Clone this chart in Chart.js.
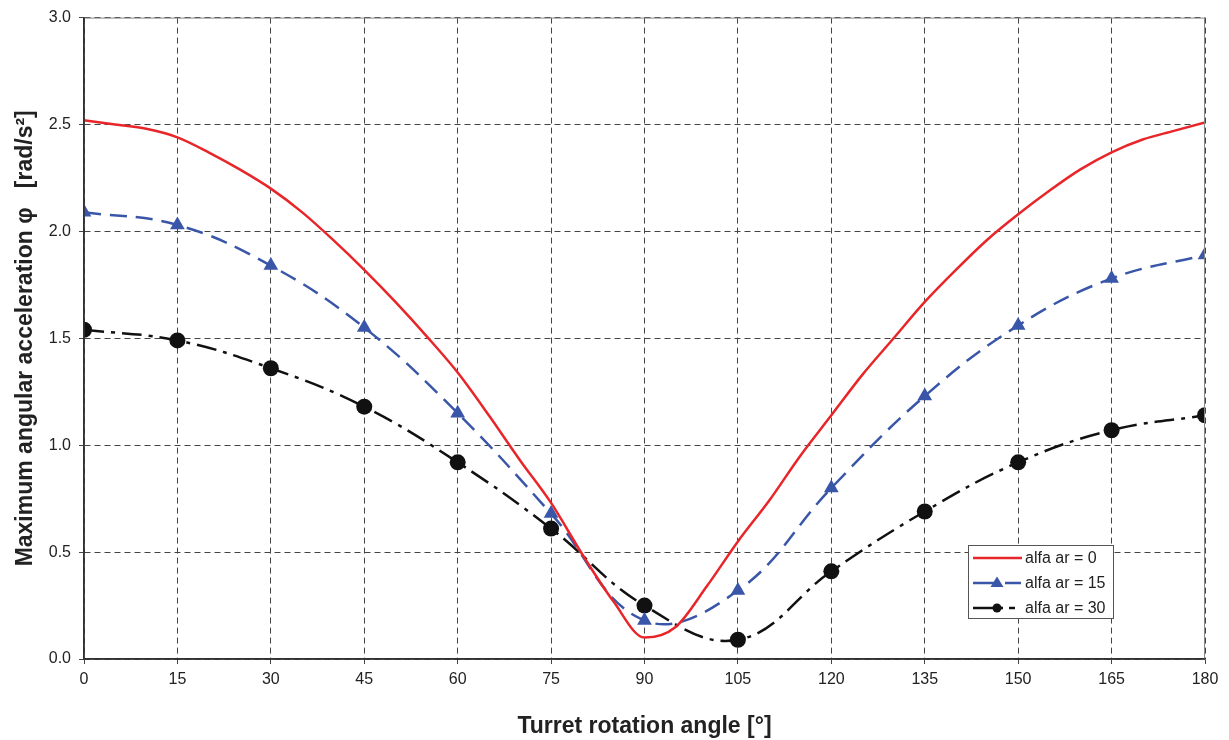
<!DOCTYPE html>
<html>
<head>
<meta charset="utf-8">
<script src="https://cdn.jsdelivr.net/npm/chart.js@4.4.0/dist/chart.umd.min.js"></script>
<style>
html,body{margin:0;padding:0;background:#fff;}
canvas{display:block;}
</style>
</head>
<body>
<canvas id="c" width="1229" height="740"></canvas>
<script>
// ---- data ----
const angles = [0, 15, 30, 45, 60, 75, 90, 105, 120, 135, 150, 165, 180];
const alfa15 = [2.09, 2.03, 1.84, 1.55, 1.15, 0.68, 0.18, 0.32, 0.80, 1.23, 1.56, 1.78, 1.89];
const alfa30 = [1.54, 1.49, 1.36, 1.18, 0.92, 0.61, 0.25, 0.09, 0.41, 0.69, 0.92, 1.07, 1.14];
const anglesFine = [0, 5, 10, 15, 20, 25, 30, 35, 40, 45, 50, 55, 60, 65, 70, 75, 80, 85, 90,
                    95, 100, 105, 110, 115, 120, 125, 130, 135, 140, 145, 150, 155, 160, 165, 170, 175, 180];
const alfa0 = [2.52, 2.50, 2.48, 2.44, 2.37, 2.29, 2.20, 2.09, 1.96, 1.82, 1.67, 1.51, 1.34, 1.14, 0.93, 0.73, 0.49, 0.27, 0.10,
               0.15, 0.34, 0.55, 0.74, 0.95, 1.14, 1.33, 1.50, 1.67, 1.82, 1.96, 2.08, 2.19, 2.29, 2.37, 2.43, 2.47, 2.51];
const seriesLabels = ['alfa ar = 0', 'alfa ar = 15', 'alfa ar = 30'];
const xTitle = 'Turret rotation angle [\u00B0]';
const yTitle = 'Maximum angular acceleration \u03C6   [rad/s\u00B2]';

const pts = (xs, ys) => xs.map((x, i) => ({x: x, y: ys[i]}));

const RED = '#e8262a', BLUE = '#3a56a8', BLACK = '#111111';
const FONT = "'Liberation Sans', Arial, sans-serif";

const framePlugin = {
  id: 'frame',
  afterDatasetsDraw(chart) {
    const {ctx, chartArea: a} = chart;
    ctx.save();
    ctx.setLineDash([]);
    ctx.strokeStyle = '#888';
    ctx.lineWidth = 1;
    ctx.beginPath();
    ctx.moveTo(a.left, a.top + 0.5); ctx.lineTo(a.right, a.top + 0.5);
    ctx.moveTo(a.right - 0.5, a.top); ctx.lineTo(a.right - 0.5, a.bottom);
    ctx.stroke();
    ctx.strokeStyle = '#333';
    ctx.lineWidth = 1.5;
    ctx.beginPath();
    ctx.moveTo(a.left, a.top); ctx.lineTo(a.left, a.bottom);
    ctx.lineTo(a.right, a.bottom);
    ctx.stroke();
    ctx.restore();
  }
};

const legendPlugin = {
  id: 'boxLegend',
  afterDraw(chart) {
    const {ctx} = chart;
    const L = 968, T = 545, R = 1113, B = 618;
    ctx.save();
    ctx.fillStyle = '#fff';
    ctx.fillRect(L, T, R - L, B - T);
    ctx.strokeStyle = '#555';
    ctx.lineWidth = 1;
    ctx.strokeRect(L + 0.5, T + 0.5, R - L, B - T);
    const rows = [558, 583, 608];
    const x0 = 973, x1 = 1022, xm = 997;
    chart.data.datasets.forEach((ds) => {
      const y = rows[ds.legendIndex];
      ctx.strokeStyle = ds.borderColor;
      ctx.lineWidth = ds.borderWidth;
      ctx.setLineDash(ds.legendDash || []);
      ctx.beginPath(); ctx.moveTo(x0, y); ctx.lineTo(x1, y); ctx.stroke();
      ctx.setLineDash([]);
      ctx.fillStyle = ds.borderColor;
      if (ds.pointStyle === 'triangle') {
        const r = 6.5;
        ctx.beginPath();
        ctx.moveTo(xm, y - r);
        ctx.lineTo(xm + r, y + r * 0.6);
        ctx.lineTo(xm - r, y + r * 0.6);
        ctx.closePath(); ctx.fill();
      } else if (ds.pointStyle === 'circle') {
        ctx.beginPath(); ctx.arc(xm, y, 4.5, 0, Math.PI * 2); ctx.fill();
      }
      ctx.fillStyle = '#222';
      ctx.font = '16px ' + FONT;
      ctx.textBaseline = 'middle';
      ctx.fillText(ds.label, 1025, y + 1);
    });
    ctx.restore();
  }
};

new Chart(document.getElementById('c'), {
  type: 'line',
  data: {
    datasets: [
      {
        label: seriesLabels[0], legendIndex: 0,
        data: pts(anglesFine, alfa0),
        borderColor: RED, backgroundColor: RED, borderWidth: 2.5,
        pointRadius: 0, cubicInterpolationMode: 'monotone', order: 0
      },
      {
        label: seriesLabels[1], legendIndex: 1,
        data: pts(angles, alfa15),
        borderColor: BLUE, backgroundColor: BLUE, borderWidth: 2.5,
        borderDash: [17, 9], legendDash: [22, 10, 16, 2],
        pointStyle: 'triangle', pointRadius: 8.5, pointBorderWidth: 0,
        tension: 0.4, order: 1
      },
      {
        label: seriesLabels[2], legendIndex: 2,
        data: pts(angles, alfa30),
        borderColor: BLACK, backgroundColor: BLACK, borderWidth: 2.5,
        borderDash: [20, 7, 4, 7], legendDash: [30, 6, 6, 20],
        pointStyle: 'circle', pointRadius: 8, pointBorderWidth: 0,
        tension: 0.4, order: 2
      }
    ]
  },
  options: {
    responsive: false,
    animation: false,
    layout: {padding: {left: 0, right: 24, top: 17, bottom: 0}},
    plugins: {legend: {display: false}, tooltip: {enabled: false}},
    scales: {
      x: {
        type: 'linear', min: 0, max: 180,
        ticks: {stepSize: 15, color: '#222', font: {family: FONT, size: 16}, padding: 6, maxRotation: 0},
        grid: {color: '#444', lineWidth: 1, tickLength: 5, tickColor: '#444', tickBorderDash: [], tickWidth: 1},
        border: {display: true, color: '#333', width: 1.5, dash: [6, 4]},
        title: {display: true, text: xTitle, color: '#222', font: {family: FONT, size: 23, weight: 'bold'}, padding: {top: 9, bottom: 0}},
        afterFit(s) { s.height = 81; }
      },
      y: {
        min: 0, max: 3,
        ticks: {stepSize: 0.5, color: '#222', font: {family: FONT, size: 16}, padding: 8,
                callback: v => Number(v).toFixed(1)},
        grid: {color: '#444', lineWidth: 1, tickLength: 5, tickColor: '#444', tickBorderDash: [], tickWidth: 1},
        border: {display: true, color: '#333', width: 1.5, dash: [6, 4]},
        title: {display: true, text: yTitle, color: '#222', font: {family: FONT, size: 23, weight: 'bold'}, padding: {top: 12, bottom: 0}},
        afterFit(s) { s.width = 84; }
      }
    }
  },
  plugins: [framePlugin, legendPlugin]
});
</script>
</body>
</html>
